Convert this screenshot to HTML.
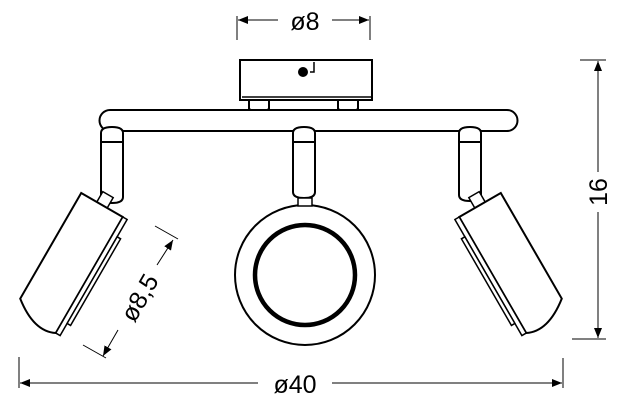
<!DOCTYPE html>
<html><head><style>body{margin:0;background:#fff}svg{display:block}</style></head><body>
<svg width="624" height="407" viewBox="0 0 624 407" xmlns="http://www.w3.org/2000/svg" style="font-family:'Liberation Sans', Arial, sans-serif">
<defs>
<marker id="a" viewBox="0 0 10 10" refX="10" refY="5" markerWidth="10" markerHeight="10" markerUnits="userSpaceOnUse" orient="auto"><path d="M0,1 L10,5 L0,9z" fill="#000"/></marker>
</defs>
<g stroke="#000" fill="none">
<line x1="237" y1="16" x2="237" y2="40" stroke-width="1"/>
<line x1="370" y1="16" x2="370" y2="40" stroke-width="1"/>
<line x1="278" y1="20" x2="238" y2="20" stroke-width="1" marker-end="url(#a)"/>
<line x1="332" y1="20" x2="369" y2="20" stroke-width="1" marker-end="url(#a)"/>
<rect x="240" y="60" width="132" height="40" stroke-width="2"/>
<line x1="242" y1="97" x2="372" y2="97" stroke-width="1.5"/>
<path d="M249,101 v8 q10,6 20,0 v-8" stroke-width="2" fill="#fff"/>
<path d="M338,101 v8 q10,6 20,0 v-8" stroke-width="2" fill="#fff"/>
<path d="M310,72 h4 v-10" stroke-width="1.5"/>
<path d="M110,110 H507 a10.5,10.5 0 0 1 0,21 H110 a10.5,10.5 0 0 1 0,-21z" stroke-width="2" fill="#fff"/>
<g stroke-width="2" fill="#fff">
<path d="M101,197 V133 q0,-6 11,-6 q11,0 11,6 V197 q0,6 -11,6 q-11,0 -11,-6z"/>
<line x1="101" y1="142" x2="123" y2="142"/>
<path d="M293,192 V133 q0,-6 11,-6 q11,0 11,6 V192 q0,6 -11,6 q-11,0 -11,-6z"/>
<line x1="293" y1="142" x2="315" y2="142"/>
<path d="M459,195 V133 q0,-6 11,-6 q11,0 11,6 V195 q0,6 -11,6 q-11,0 -11,-6z"/>
<line x1="459" y1="142" x2="481" y2="142"/>
</g>
<circle cx="305" cy="275" r="70" stroke-width="2" fill="#fff"/>
<circle cx="305" cy="275" r="50" stroke-width="4.5"/>
<rect x="298" y="198" width="14" height="8" stroke-width="1.5" fill="#fff"/>
<g transform="translate(102,205) rotate(30)" stroke-width="2" fill="#fff">
<rect x="-6" y="-12" width="12" height="12" stroke-width="1.5"/>
<path d="M-24,0 H24 V134 Q4,144 -24,122 Z"/>
<rect x="24" y="0" width="5" height="134" stroke-width="1.5"/>
<rect x="29" y="20" width="4" height="100" stroke-width="1.5"/>
</g>
<g transform="translate(480,205) rotate(-30)" stroke-width="2" fill="#fff">
<rect x="-6" y="-12" width="12" height="12" stroke-width="1.5"/>
<path d="M24,0 H-24 V134 Q-4,144 24,122 Z"/>
<rect x="-29" y="0" width="5" height="134" stroke-width="1.5"/>
<rect x="-33" y="20" width="4" height="100" stroke-width="1.5"/>
</g>
<line x1="580" y1="60" x2="606" y2="60" stroke-width="1"/>
<line x1="572" y1="339" x2="606" y2="339" stroke-width="1"/>
<line x1="598" y1="172" x2="598" y2="61" stroke-width="1" marker-end="url(#a)"/>
<line x1="598" y1="212" x2="598" y2="338" stroke-width="1" marker-end="url(#a)"/>
<line x1="19" y1="357" x2="19" y2="388" stroke-width="1"/>
<line x1="563" y1="358" x2="563" y2="388" stroke-width="1"/>
<line x1="258" y1="383" x2="20" y2="383" stroke-width="1" marker-end="url(#a)"/>
<line x1="332" y1="383" x2="562" y2="383" stroke-width="1" marker-end="url(#a)"/>
<line x1="155" y1="226" x2="178" y2="239" stroke-width="1"/>
<line x1="83" y1="345" x2="106" y2="358" stroke-width="1"/>
<line x1="157" y1="265" x2="173" y2="240" stroke-width="1" marker-end="url(#a)"/>
<line x1="118" y1="330" x2="103" y2="356" stroke-width="1" marker-end="url(#a)"/>
</g>
<circle cx="303" cy="72" r="5" fill="#000"/>
<g font-size="25" fill="#000" text-anchor="middle" font-family="'Liberation Sans', Arial, sans-serif">
<text x="305" y="30">ø8</text>
<text x="295" y="393">ø40</text>
<text transform="translate(607,192) rotate(-90)">16</text>
<text transform="translate(147,302) rotate(-60)">ø8,5</text>
</g>
</svg>
</body></html>
